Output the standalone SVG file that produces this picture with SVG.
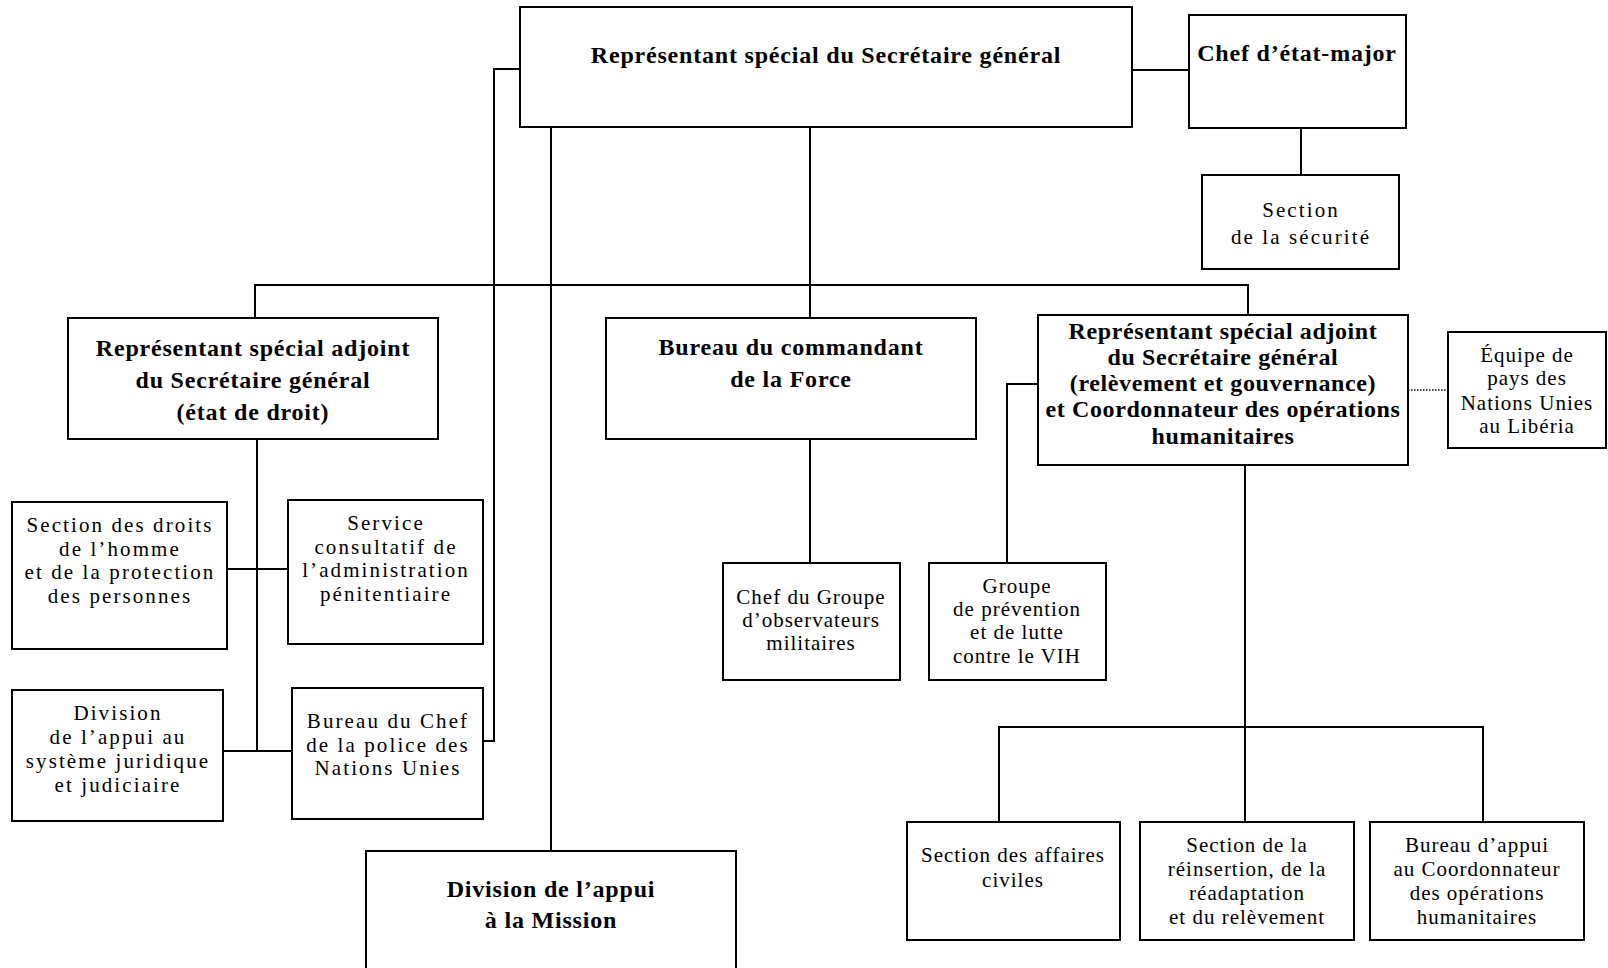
<svg xmlns="http://www.w3.org/2000/svg" width="1608" height="968" viewBox="0 0 1608 968">
<style>
.box{fill:#fff;stroke:#000;stroke-width:2}
text{font-family:"Liberation Serif","Times New Roman",serif;fill:#000;text-anchor:middle}
.b{font-size:24px;font-weight:bold;letter-spacing:0.8px}
.b2{font-size:24px;font-weight:bold;letter-spacing:0.6px}
.r{font-size:21px;letter-spacing:2.1px}
.n{font-size:21px;letter-spacing:1px}
.ln{stroke:#000;stroke-width:2;fill:none}
.dot{stroke:#000;stroke-width:1.5;stroke-dasharray:1.5 1.5;fill:none}
</style>
<rect width="1608" height="968" fill="#fff"/>
<g id="connectors">
<polyline class="ln" points="1132,70 1189,70"/>
<polyline class="ln" points="1301,128 1301,175"/>
<polyline class="ln" points="520,69 494,69 494,741 483,741"/>
<polyline class="ln" points="551,127 551,851"/>
<polyline class="ln" points="810,127 810,318"/>
<polyline class="ln" points="255,318 255,285 1248,285 1248,315"/>
<polyline class="ln" points="257,439 257,751"/>
<polyline class="ln" points="227,569 288,569"/>
<polyline class="ln" points="223,751 292,751"/>
<polyline class="ln" points="810,439 810,563"/>
<polyline class="ln" points="1038,384 1007,384 1007,563"/>
<polyline class="dot" points="1408,390 1448,390"/>
<polyline class="ln" points="1245,465 1245,727"/>
<polyline class="ln" points="999,822 999,727 1483,727 1483,822"/>
<polyline class="ln" points="1245,727 1245,822"/>
</g>
<g id="rssg"><rect class="box" x="520" y="7" width="612" height="120"/>
<text class="b" x="826" y="63">Représentant spécial du Secrétaire général</text></g>
<g id="chef-etat-major"><rect class="box" x="1189" y="15" width="217" height="113"/>
<text class="b" x="1297" y="61">Chef d’état-major</text></g>
<g id="securite"><rect class="box" x="1202" y="175" width="197" height="94"/>
<text class="r" x="1301" y="217">Section</text>
<text class="r" x="1301" y="244">de la sécurité</text></g>
<g id="rssga-droit"><rect class="box" x="68" y="318" width="370" height="121"/>
<text class="b" x="253" y="356">Représentant spécial adjoint</text>
<text class="b" x="253" y="388">du Secrétaire général</text>
<text class="b" x="253" y="420">(état de droit)</text></g>
<g id="commandant"><rect class="box" x="606" y="318" width="370" height="121"/>
<text class="b" x="791" y="355">Bureau du commandant</text>
<text class="b" x="791" y="387">de la Force</text></g>
<g id="rssga-releve"><rect class="box" x="1038" y="315" width="370" height="150"/>
<text class="b2" x="1223" y="339">Représentant spécial adjoint</text>
<text class="b2" x="1223" y="365">du Secrétaire général</text>
<text class="b2" x="1223" y="391">(relèvement et gouvernance)</text>
<text class="b2" x="1223" y="417">et Coordonnateur des opérations</text>
<text class="b2" x="1223" y="444">humanitaires</text></g>
<g id="equipe-pays"><rect class="box" x="1448" y="332" width="158" height="116"/>
<text class="n" x="1527" y="362">Équipe de</text>
<text class="n" x="1527" y="385">pays des</text>
<text class="n" x="1527" y="410">Nations Unies</text>
<text class="n" x="1527" y="433">au Libéria</text></g>
<g id="droits-homme"><rect class="box" x="12" y="502" width="215" height="147"/>
<text class="r" x="120" y="532">Section des droits</text>
<text class="r" x="120" y="556">de l’homme</text>
<text class="r" x="120" y="579">et de la protection</text>
<text class="r" x="120" y="603">des personnes</text></g>
<g id="penitentiaire"><rect class="box" x="288" y="500" width="195" height="144"/>
<text class="r" x="386" y="530">Service</text>
<text class="r" x="386" y="554">consultatif de</text>
<text class="r" x="386" y="577">l’administration</text>
<text class="r" x="386" y="601">pénitentiaire</text></g>
<g id="juridique"><rect class="box" x="12" y="690" width="211" height="131"/>
<text class="r" x="118" y="720">Division</text>
<text class="r" x="118" y="744">de l’appui au</text>
<text class="r" x="118" y="768">système juridique</text>
<text class="r" x="118" y="792">et judiciaire</text></g>
<g id="police"><rect class="box" x="292" y="688" width="191" height="131"/>
<text class="r" x="388" y="728">Bureau du Chef</text>
<text class="r" x="388" y="752">de la police des</text>
<text class="r" x="388" y="775">Nations Unies</text></g>
<g id="observateurs"><rect class="box" x="723" y="563" width="177" height="117"/>
<text class="n" x="811" y="604">Chef du Groupe</text>
<text class="n" x="811" y="627">d’observateurs</text>
<text class="n" x="811" y="650">militaires</text></g>
<g id="vih"><rect class="box" x="929" y="563" width="177" height="117"/>
<text class="n" x="1017" y="593">Groupe</text>
<text class="n" x="1017" y="616">de prévention</text>
<text class="n" x="1017" y="639">et de lutte</text>
<text class="n" x="1017" y="663">contre le VIH</text></g>
<g id="affaires-civiles"><rect class="box" x="907" y="822" width="213" height="118"/>
<text class="n" x="1013" y="862">Section des affaires</text>
<text class="n" x="1013" y="887">civiles</text></g>
<g id="reinsertion"><rect class="box" x="1140" y="822" width="214" height="118"/>
<text class="n" x="1247" y="852">Section de la</text>
<text class="n" x="1247" y="876">réinsertion, de la</text>
<text class="n" x="1247" y="900">réadaptation</text>
<text class="n" x="1247" y="924">et du relèvement</text></g>
<g id="appui-coordonnateur"><rect class="box" x="1370" y="822" width="214" height="118"/>
<text class="n" x="1477" y="852">Bureau d’appui</text>
<text class="n" x="1477" y="876">au Coordonnateur</text>
<text class="n" x="1477" y="900">des opérations</text>
<text class="n" x="1477" y="924">humanitaires</text></g>
<g id="appui-mission"><rect class="box" x="366" y="851" width="370" height="130"/>
<text class="b" x="551" y="897">Division de l’appui</text>
<text class="b" x="551" y="928">à la Mission</text></g>
</svg>
